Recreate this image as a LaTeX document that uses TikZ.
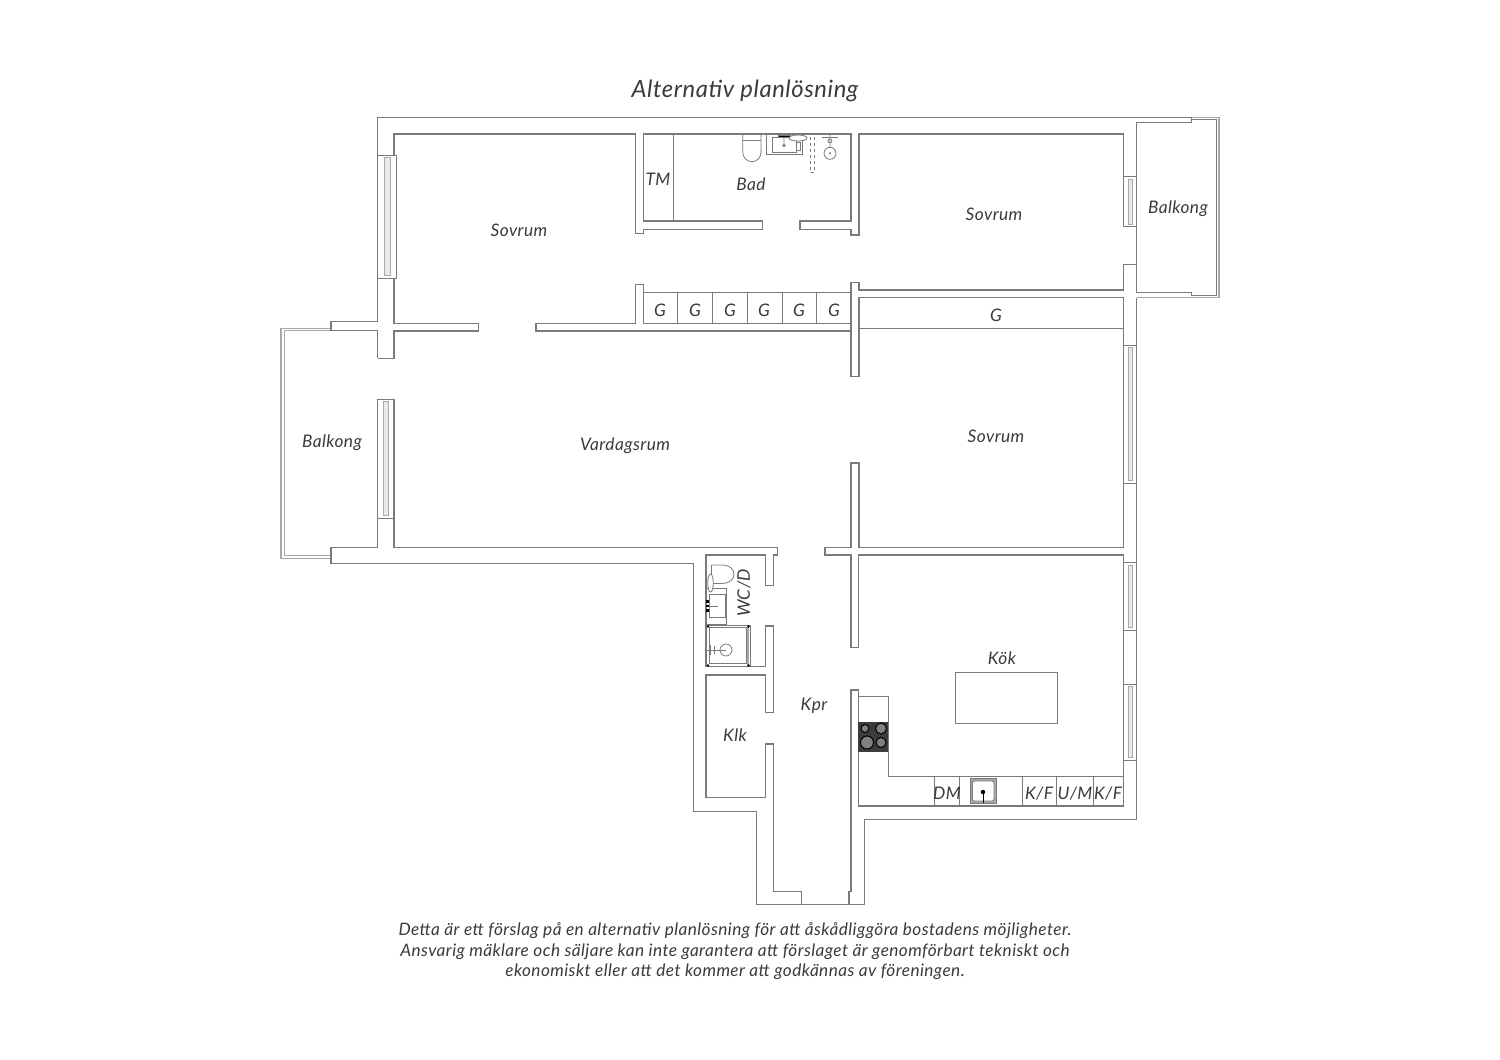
\documentclass[tikz,border=0pt]{standalone}
\usepackage{fontspec}
\setmainfont{Lato}[LetterSpace=2.5]
\definecolor{wallgray}{HTML}{7A7A7A}
\definecolor{railgray}{HTML}{A8A8A8}
\definecolor{textgray}{HTML}{3A3A3A}
\definecolor{hobgray}{HTML}{3C3C3C}
\tikzset{
  wall/.style={draw=wallgray,line width=1.05pt,line join=miter},
  rail/.style={draw=railgray,line width=1.1pt},
  thin wall/.style={draw=wallgray,line width=0.9pt},
  fixture/.style={draw=wallgray,line width=0.8pt},
  room/.style={font=\itshape\fontsize{17.3}{19}\selectfont,text=textgray,inner sep=0pt},
  small room/.style={font=\itshape\fontsize{17.2}{20.5}\selectfont,text=textgray,inner sep=0pt}
}
\begin{document}
\begin{tikzpicture}[x=1pt,y=-1pt]
  \useasboundingbox (0,0) rectangle (1500,1060);

  \draw[rail] (1191.7,117.5) -- (1219,117.5) -- (1219,297.7) -- (1137,297.7);
  \draw[wall] (1191.7,117.5) -- (1191.7,119.5) -- (1216.7,119.5) -- (1216.7,295.5) -- (1191.7,295.5);
  \draw[rail] (331,328.3) -- (281,328.3) -- (281,558.3) -- (331,558.3);
  \draw[rail] (331,330.7) -- (284.3,330.7) -- (284.3,555.7) -- (331,555.7);

  \draw[wall] (377.7,358.3) -- (377.7,330.7) -- (331,330.7) -- (331,321.7) -- (377.7,321.7)
    -- (377.7,117.5) -- (1191.7,117.5) -- (1191.7,122.7) -- (1136.7,122.7) -- (1136.7,292.3)
    -- (1191.7,292.3) -- (1191.7,295.5);
  \draw[wall] (377.7,399.3) -- (377.7,547.3) -- (331,547.3) -- (331,563.3) -- (693.3,563.3)
    -- (693.3,811.7) -- (756.7,811.7) -- (756.7,904.3) -- (864.3,904.3) -- (864.3,819.3)
    -- (1136.7,819.3) -- (1136.7,297.7);

  \draw[wall] (394,155) -- (394,134) -- (635.7,134) -- (635.7,233.3) -- (643.3,233.3)
    -- (643.3,229.3) -- (762.7,229.3) -- (762.7,221) -- (643.3,221) -- (643.3,134)
    -- (851,134) -- (851,221) -- (800,221) -- (800,229.3) -- (851,229.3) -- (851,235)
    -- (859,235) -- (859,134) -- (1123.7,134) -- (1123.7,176.7);
  \draw[wall] (1136.7,264.3) -- (1123.7,264.3) -- (1123.7,290) -- (859,290) -- (859,282.7)
    -- (851,282.7) -- (851,292.7) -- (643.3,292.7) -- (643.3,284.3) -- (635.7,284.3)
    -- (635.7,323.3) -- (536,323.3) -- (536,331) -- (851,331) -- (851,376.7) -- (859,376.7)
    -- (859,297.7) -- (1123.7,297.7) -- (1123.7,345);
  \draw[wall] (859,328.3) -- (1123.7,328.3);
  \draw[wall] (643.3,292.7) -- (643.3,323.3);
  \draw[wall] (851,292.7) -- (851,331);
  \draw[wall] (1123.7,483) -- (1123.7,547.3) -- (859,547.3) -- (859,463) -- (851,463)
    -- (851,547.3) -- (825,547.3) -- (825,555) -- (851,555) -- (851,647.3) -- (858.3,647.3)
    -- (858.3,555) -- (1123.7,555) -- (1123.7,562.7);
  \draw[wall] (1123.7,630) -- (1123.7,684);
  \draw[wall] (1123.7,760) -- (1123.7,806) -- (858.3,806) -- (858.3,690) -- (851,690)
    -- (851,891.7) -- (849,891.7) -- (849,904.3);
  \draw[wall] (801.7,904.3) -- (801.7,891.7) -- (773.3,891.7) -- (773.3,744) -- (765.3,744)
    -- (765.3,797.3) -- (706,797.3) -- (706,675) -- (765.3,675) -- (765.3,712.3) -- (773.3,712.3)
    -- (773.3,626) -- (765.3,626) -- (765.3,666.7) -- (706,666.7) -- (706,555) -- (765.3,555)
    -- (765.3,585.7) -- (773.3,585.7) -- (773.3,555) -- (777.3,555) -- (777.3,547.3)
    -- (394,547.3) -- (394,399.3) -- (377.7,399.3);
  \draw[wall] (377.7,358.3) -- (394,358.3) -- (394,331) -- (478.3,331) -- (478.3,323.3)
    -- (394,323.3) -- (394,278.3);

  \foreach \xa/\xb/\ya/\yb in {377.7/396.7/155/278.3, 377.7/394/399.3/518,
      1123.7/1136.7/176.7/226.7, 1123.7/1136.7/345/483,
      1123.7/1136.7/562.7/630, 1123.7/1136.7/684/760} {
    \draw[thin wall] (\xa,\ya) rectangle (\xb,\yb);
    \draw[rail,fill=railgray!25,line width=0.7pt] ({\xa+0.36*(\xb-\xa)},\ya+2.5) rectangle ({\xa+0.66*(\xb-\xa)},\yb-2.5);
  }

  \draw[thin wall] (673.3,134) -- (673.3,221);
  \draw[thin wall] (643.3,323.3) -- (851,323.3);
  \foreach \xa in {677.7,712.3,747.3,782,816.7}
    \draw[thin wall] (\xa,292.7) -- (\xa,323.3);

  \draw[fixture] (742.7,134) -- (742.7,152) arc[start angle=180,end angle=0,x radius=9.2,y radius=9.7] -- (761,134);
  \draw[fixture] (742.7,140) -- (761,140);
  \draw[fixture] (766.7,134) rectangle (802.3,154.3);
  \draw[fixture] (772.7,137.3) rectangle (796.7,152.7);
  \draw[fixture,fill=black] (778,135) rectangle (790,137);
  \draw[fixture] (784,137) -- (784,144) (784,145.5) circle[radius=1.2];
  \draw[fixture,fill=white] (798,138) ellipse[x radius=9,y radius=3];
  \draw[fixture,fill=white] (796,142) rectangle (800,150);
  \draw[fixture,dashed,line width=0.8pt] (810,137) -- (810,172.5) -- (814.3,172.5) -- (814.3,137);
  \draw[fixture] (822,137) -- (838,137);
  \draw[fixture] (830,134) -- (830,147) (830,153.3) circle[radius=6];
  \draw[fixture] (830,141) circle[radius=2];
  \fill[wallgray] (830,153.3) circle[radius=1.2];

  \draw[thin wall] (858.3,696) -- (888.3,696) -- (888.3,776) -- (1123.7,776);
  \fill[hobgray] (858.3,721.7) rectangle (888.3,751.7);
  \foreach \xa/\ya/\ra in {865/728.5/4, 881/728.5/5.5, 867/742.5/6.5, 881/742.5/5} {
    \draw[black,fill=gray,line width=1pt] (\xa,\ya) circle[radius=\ra];
  }
  \foreach \xa in {934,959.7,1022,1056.7,1093}
    \draw[thin wall] (\xa,776) -- (\xa,806);
  \draw[draw=wallgray,fill=railgray,line width=1pt] (970,778.3) rectangle (996.7,803.3);
  \draw[fixture,fill=white,rounded corners=2pt] (972.5,781) rectangle (994,801);
  \draw[black,line width=1pt] (983,791.5) -- (983,803);
  \fill[black] (983,792) circle[radius=2.2];
  \draw[thin wall] (955,672.3) rectangle (1057.7,723.3);

  \draw[fixture] (711.7,565) -- (723,565) arc[start angle=-90,end angle=90,x radius=11,y radius=9.2] -- (711.7,583.4);
  \draw[fixture] (711.7,565) -- (711.7,583.4);
  \draw[fixture] (706,588) -- (726.7,588) -- (726.7,624) -- (706,624);
  \draw[fixture] (709.3,594.3) rectangle (725,617.3);
  \draw[fixture,fill=white] (710.5,583) ellipse[x radius=2.8,y radius=9];
  \foreach \ya in {600,604.5,609}
    \fill[black] (706,\ya) rectangle (708.5,\ya+2.5);
  \draw[fixture] (708.5,606) -- (718,606);
  \draw[fixture] (706,625) -- (750,625) -- (750,666.7);
  \draw[rail,line width=1.6pt] (748,626.5) -- (748,665);
  \draw[fixture] (709.3,627.7) rectangle (746,663.3);
  \draw[fixture] (726,650) circle[radius=6];
  \draw[fixture] (706,650) -- (726,650) (710,645) -- (710,655) (714,646) -- (714,654);
  \foreach \xa/\ya in {708/626.5, 748.5/626.5, 748.5/665.5, 708/665.5}
    \fill[black] (\xa,\ya) circle[radius=1.4];

  \node[font=\itshape\fontsize{23.8}{26}\selectfont,text=textgray,inner sep=0pt] (title) at (745,91) {Alternativ planlösning};
  \node[room] (sovrum1) at (519,230) {Sovrum};
  \node[room] (sovrum2) at (994,214) {Sovrum};
  \node[room] (sovrum3) at (996,436.5) {Sovrum};
  \node[room] (tm) at (658,179) {TM};
  \node[room] (bad) at (751,184) {Bad};
  \node[room] (balkong1) at (1178,208.5) {Balkong};
  \node[room] (balkong2) at (332,442.5) {Balkong};
  \node[room] (vardagsrum) at (625,445.5) {Vardagsrum};
  \node[room] (kok) at (1002,658) {Kök};
  \node[room] (kpr) at (814,706) {Kpr};
  \node[room] (klk) at (735,735.5) {Klk};
  \node[room,rotate=90] (wcd) at (744,593) {WC/D};
  \node[room] (g7) at (996,315.5) {G};
  \foreach \xa/\gname in {660/g1,695/g2,730/g3,764/g4,799/g5,834/g6}
    \node[room] (\gname) at (\xa,310.5) {G};
  \node[room] (dm) at (947,793.5) {DM};
  \node[room] (kf1) at (1039,793.5) {K/F};
  \node[room] (um) at (1075,793.5) {U/M};
  \node[room] (kf2) at (1108,793.5) {K/F};
  \node[small room,align=center] (note) at (735,951.5) {Detta är ett förslag på en alternativ planlösning för att åskådliggöra bostadens möjligheter.\\Ansvarig mäklare och säljare kan inte garantera att förslaget är genomförbart tekniskt och\\ekonomiskt eller att det kommer att godkännas av föreningen.};
\end{tikzpicture}
\end{document}
